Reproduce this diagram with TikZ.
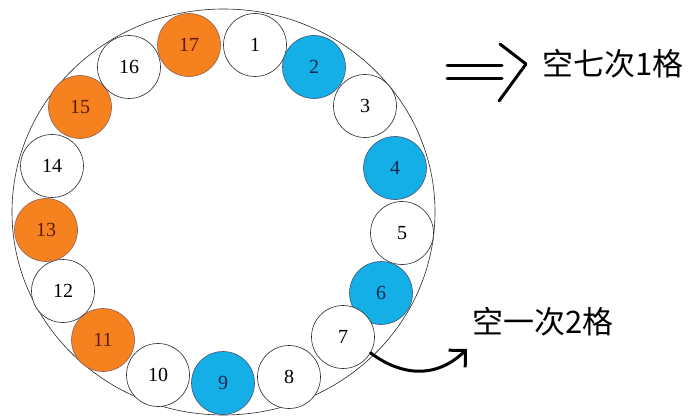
\documentclass[tikz,border=0pt]{standalone}
\usepackage{fontspec}
\setmainfont{Liberation Serif}
\newfontfamily\cjkfont{Noto Sans CJK SC}
\usetikzlibrary{arrows.meta, positioning, shapes.geometric}
\definecolor{seatorange}{RGB}{245,130,30}
\definecolor{seatblue}{RGB}{20,175,230}
\definecolor{orangetext}{RGB}{95,25,15}
\definecolor{bluetext}{RGB}{20,40,80}
\definecolor{ringline}{RGB}{40,40,40}

\begin{document}
\begin{tikzpicture}[
    x=1pt, y=-1pt,
    every node/.style={font=\fontsize{20}{20}\selectfont},
    seat/.style={circle, draw=ringline, line width=0.6pt,
                 minimum size=63pt, inner sep=0pt, fill=white},
    seato/.style={seat, fill=seatorange, draw=orangetext!70, text=orangetext},
    seatb/.style={seat, fill=seatblue, draw=bluetext!80, text=bluetext},
    note/.style={anchor=west, inner sep=0pt,
                 font=\cjkfont\fontsize{31}{31}\selectfont},
    arr/.style={line width=3pt, line cap=round, line join=round}
]
\useasboundingbox (0,0) rectangle (693,417);

% --- Ring ---
\node[ellipse, draw=ringline, line width=0.6pt, minimum width=423pt,
      minimum height=406pt, inner sep=0pt] (ring) at (223.5,212) {};

% --- Seats ---
\node[seat]  (c1)  at (255,45)  {1};
\node[seatb] (c2)  at (314,67)  {2};
\node[seat]  (c3)  at (365,106) {3};
\node[seatb] (c4)  at (395,168) {4};
\node[seat]  (c5)  at (402,233) {5};
\node[seatb] (c6)  at (381,293) {6};
\node[seat]  (c7)  at (343,337) {7};
\node[seat]  (c8)  at (289,377) {8};
\node[seatb] (c9)  at (223,383) {9};
\node[seat]  (c10) at (158,375) {10};
\node[seato] (c11) at (103,340) {11};
\node[seat]  (c12) at (63,291)  {12};
\node[seato] (c13) at (46,230)  {13};
\node[seat]  (c14) at (52,166)  {14};
\node[seato] (c15) at (80,107)  {15};
\node[seat]  (c16) at (129,67)  {16};
\node[seato] (c17) at (189,45)  {17};

% --- Notes ---
\node[note] (n1) at (542,64)  {空七次1格};
\node[note] (n2) at (472,322) {空一次2格};

% --- Double arrow ---
\coordinate (d1) at (447,66);
\coordinate (d2) at (447,79);
\draw[arr] (d1) -- ++(55,0);
\draw[arr] (d2) -- ++(55,0);
\draw[arr] (500,44) -- (526,64) -- (499,101);

% --- Curved arrow ---
\coordinate (tip) at (467,349);
\draw[arr, -{Straight Barb[length=12pt, width=24pt]}]
    (c7.-30) .. controls (400,375) and (435,380) .. (tip);
\end{tikzpicture}
\end{document}
